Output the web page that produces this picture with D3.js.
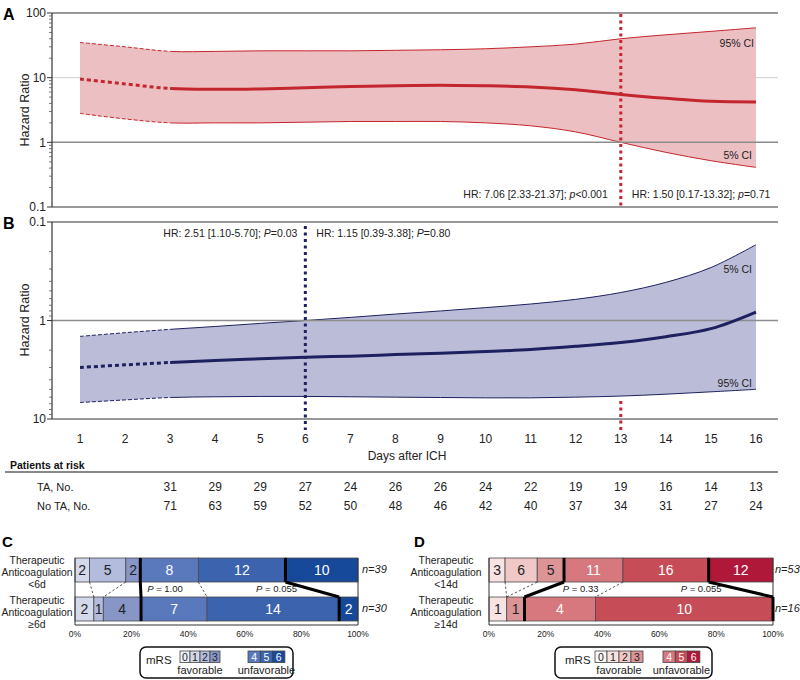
<!DOCTYPE html>
<html><head><meta charset="utf-8">
<script src="https://cdn.jsdelivr.net/npm/d3@7"></script>
<style>body{margin:0;background:#fff}svg{display:block;font-family:"Liberation Sans",Arial,sans-serif}</style>
</head><body><svg id="c" width="800" height="680"></svg>
<script>
// ---------- DATA ----------
const days = [1,2,3,4,5,6,7,8,9,10,11,12,13,14,15,16];
const hrA     = [9.5,8.0,6.8,6.6,6.7,7.0,7.3,7.5,7.6,7.5,7.2,6.5,5.5,4.8,4.3,4.2];
const ciLowA  = [2.8,2.3,2.0,2.0,2.0,2.05,2.1,2.1,2.1,2.0,1.8,1.45,1.0,0.7,0.52,0.41];
const ciHighA = [35,30,25.5,25.5,26,26,26,26.5,27,28,30,33,40,46,52,59];
const hrB     = [3.0,2.82,2.67,2.55,2.45,2.36,2.3,2.22,2.15,2.07,1.97,1.83,1.67,1.46,1.21,0.82];
const ci5B    = [1.45,1.33,1.23,1.15,1.07,1.0,0.93,0.86,0.8,0.74,0.68,0.61,0.52,0.41,0.29,0.17];
const ci95B   = [6.8,6.4,6.05,5.95,5.9,5.9,5.95,6.0,6.05,6.1,6.1,6.0,5.85,5.6,5.3,5.0];
const cutA = 13, cutB = 6;
const riskDays = [3,4,5,6,7,8,9,10,11,12,13,14,15,16];
const taAtRisk   = [31,29,29,27,24,26,26,24,22,19,19,16,14,13];
const noTaAtRisk = [71,63,59,52,50,48,46,42,40,37,34,31,27,24];
const mrsLevels = [0,1,2,3,4,5,6];
const cTop    = [0,2,5,2,8,12,10];
const cBottom = [0,2,1,4,7,14,2];
const dTop    = [0,3,6,5,11,16,12];
const dBottom = [0,1,0,1,4,10,0];
const pctTicks = [0,0.2,0.4,0.6,0.8,1];
const blues = ['#eef0f7','#d3d8ea','#b3bcdc','#8896c7','#5a79bd','#3c63ad','#17499b'];
const reds  = ['#fdf6f6','#f8e3e3','#f0c8c8','#dc9497','#d6787d','#c64c58','#b0183a'];

// ---------- SETUP ----------
const svg = d3.select('#c');
const L = 52, R = 778;
const x = d3.scaleLinear().domain([1,16]).range([80,756]);
const yA = d3.scaleLog().domain([0.1,100]).range([207,13]);
const yB = d3.scaleLog().domain([0.1,10]).range([222,419]);
const curve = d3.curveCatmullRom.alpha(0.5);
const defs = svg.append('defs');
defs.append('clipPath').attr('id','clipL').append('rect').attr('x',0).attr('y',0).attr('width',x(3)).attr('height',680);
defs.append('clipPath').attr('id','clipR').append('rect').attr('x',x(3)).attr('y',0).attr('width',800).attr('height',680);

function hazardPanel(y, hr, lo, hi, fill, col, lightGrid, darkGrid) {
  const g = svg.append('g');
  lightGrid.forEach(v => g.append('line').attr('x1',L).attr('x2',R).attr('y1',y(v)).attr('y2',y(v)).attr('stroke','#cfcfcf').attr('stroke-width',1));
  const area = d3.area().x((d,i)=>x(days[i])).y0((d,i)=>y(lo[i])).y1((d,i)=>y(hi[i])).curve(curve);
  g.append('path').attr('d',area(days)).attr('fill',fill);
  const line = arr => d3.line().x((d,i)=>x(days[i])).y((d,i)=>y(arr[i])).curve(curve)(days);
  [lo,hi].forEach(arr => {
    g.append('path').attr('d',line(arr)).attr('fill','none').attr('stroke',col).attr('stroke-width',1).attr('stroke-dasharray','4,2').attr('clip-path','url(#clipL)');
    g.append('path').attr('d',line(arr)).attr('fill','none').attr('stroke',col).attr('stroke-width',1).attr('clip-path','url(#clipR)');
  });
  darkGrid.forEach(v => g.append('line').attr('x1',L).attr('x2',R).attr('y1',y(v)).attr('y2',y(v)).attr('stroke','#8c8c8c').attr('stroke-width',1.5));
  g.append('path').attr('d',line(hr)).attr('fill','none').attr('stroke',col).attr('stroke-width',3).attr('stroke-dasharray','4,3').attr('clip-path','url(#clipL)');
  g.append('path').attr('d',line(hr)).attr('fill','none').attr('stroke',col).attr('stroke-width',3).attr('clip-path','url(#clipR)');
  const [d0,d1] = y.domain();
  [d0,d1].forEach(v => g.append('line').attr('x1',L).attr('x2',R).attr('y1',y(v)).attr('y2',y(v)).attr('stroke','#333').attr('stroke-width',1.2));
  g.append('line').attr('x1',L).attr('x2',L).attr('y1',y(d0)).attr('y2',y(d1)).attr('stroke','#333').attr('stroke-width',1.2);
  const decades = [];
  for (let e = Math.round(Math.log10(d0)); e <= Math.round(Math.log10(d1)); e++) decades.push(Math.pow(10,e));
  decades.forEach((dv,i) => {
    g.append('line').attr('x1',L-5).attr('x2',L).attr('y1',y(dv)).attr('y2',y(dv)).attr('stroke','#333');
    g.append('text').attr('x',L-6).attr('y',y(dv)).attr('dy','0.35em').attr('text-anchor','end').attr('font-size',12).attr('fill','#222').text(dv >= 1 ? d3.format('d')(dv) : '0.1');
    if (i < decades.length-1) for (let m=2;m<=9;m++) {
      const v = dv*m;
      g.append('line').attr('x1',L-3).attr('x2',L).attr('y1',y(v)).attr('y2',y(v)).attr('stroke','#555').attr('stroke-width',0.8);
    }
  });
  return g;
}

const redLine = '#c4262e', blueLine = '#1e2160';
hazardPanel(yA, hrA, ciLowA, ciHighA, '#ecbfc2', redLine, [10], [1]);
hazardPanel(yB, hrB, ci5B, ci95B, '#bbbcd7', blueLine, [], [1]);

svg.append('line').attr('x1',x(cutA)).attr('x2',x(cutA)).attr('y1',14).attr('y2',207).attr('stroke',redLine).attr('stroke-width',3).attr('stroke-dasharray','3,3.5');
svg.append('line').attr('x1',x(cutA)).attr('x2',x(cutA)).attr('y1',401).attr('y2',430).attr('stroke',redLine).attr('stroke-width',3).attr('stroke-dasharray','3,3.5');
svg.append('line').attr('x1',x(cutB)).attr('x2',x(cutB)).attr('y1',226).attr('y2',430).attr('stroke',blueLine).attr('stroke-width',3).attr('stroke-dasharray','3,3.5');

const t = (px,py,txt,opt={}) => { const e = svg.append('text').attr('x',px).attr('y',py).attr('font-size',opt.fs||12).attr('fill',opt.fill||'#222').attr('text-anchor',opt.anchor||'start').text(txt); if(opt.bold) e.attr('font-weight','bold'); if(opt.italic) e.attr('font-style','italic'); return e; };
t(3,20,'A',{fs:16,bold:true,fill:'#000'});
t(3,229,'B',{fs:16,bold:true,fill:'#000'});
t(2,547,'C',{fs:15,bold:true,fill:'#000'});
t(414,547,'D',{fs:15,bold:true,fill:'#000'});
svg.append('text').attr('transform','translate(29,110) rotate(-90)').attr('text-anchor','middle').attr('font-size',12.5).attr('fill','#222').text('Hazard Ratio');
svg.append('text').attr('transform','translate(29,320) rotate(-90)').attr('text-anchor','middle').attr('font-size',12.5).attr('fill','#222').text('Hazard Ratio');

t(754,47,'95% CI',{fs:10.5,anchor:'end'});
t(752,159,'5% CI',{fs:10.5,anchor:'end'});
t(752,273,'5% CI',{fs:10.5,anchor:'end'});
t(752,387,'95% CI',{fs:10.5,anchor:'end'});

function hrText(px, py, pre, pchar, post, anchor) {
  const e = svg.append('text').attr('x',px).attr('y',py).attr('font-size',10.5).attr('fill','#222').attr('text-anchor',anchor);
  e.append('tspan').text(pre); e.append('tspan').attr('font-style','italic').text(pchar); e.append('tspan').text(post);
}
hrText(x(cutA)-13,198,'HR: 7.06 [2.33-21.37]; ','p','<0.001','end');
hrText(x(cutA)+11,198,'HR: 1.50 [0.17-13.32]; ','p','=0.71','start');
hrText(x(cutB)-8,237,'HR: 2.51 [1.10-5.70]; ','P','=0.03','end');
hrText(x(cutB)+11,237,'HR: 1.15 [0.39-3.38]; ','P','=0.80','start');

days.forEach(d => t(x(d),443,String(d),{fs:12,anchor:'middle'}));
t(407,460,'Days after ICH',{fs:12,anchor:'middle'});

t(10,469,'Patients at risk',{fs:10.5,bold:true,fill:'#111'});
svg.append('line').attr('x1',5).attr('x2',R).attr('y1',472).attr('y2',472).attr('stroke','#888').attr('stroke-width',2);
t(37,491,'TA, No.',{fs:11});
t(37,510,'No TA, No.',{fs:11});
riskDays.forEach((d,i) => { t(x(d),491,String(taAtRisk[i]),{fs:12,anchor:'middle'}); t(x(d),510,String(noTaAtRisk[i]),{fs:12,anchor:'middle'}); });

// ---------- STACKED BAR PANELS ----------
function barPanel(x0, x1, top, bottom, colors, labelX, labelsTop, labelsBottom, pPos, pTexts, nX) {
  const xs = d3.scaleLinear().domain([0,1]).range([x0,x1]);
  const bars = [{counts:top, y0:558, y1:582}, {counts:bottom, y0:597, y1:621}];
  const g = svg.append('g');
  bars.forEach(b => {
    const n = d3.sum(b.counts);
    b.n = n;
    b.cum = []; let c = 0;
    mrsLevels.forEach(k => { const s = c; c += b.counts[k]; b.cum.push(c/n);
      if (b.counts[k] > 0) {
        g.append('rect').attr('x',xs(s/n)).attr('y',b.y0).attr('width',xs(c/n)-xs(s/n)).attr('height',b.y1-b.y0).attr('fill',colors[k]).attr('stroke','#4a4a4a').attr('stroke-width',0.8);
        g.append('text').attr('x',(xs(s/n)+xs(c/n))/2).attr('y',(b.y0+b.y1)/2).attr('dy','0.36em').attr('text-anchor','middle').attr('font-size',14).attr('fill',k>=4?'#fff':'#222').text(b.counts[k]);
      }
    });
  });
  g.append('path').attr('d',`M${x0},558V625H${x1}V558`).attr('fill','none').attr('stroke','#333').attr('stroke-width',1);
  [1,2,3,4,5].forEach(k => {
    const thick = (k===3||k===5);
    const ln = g.append('line').attr('x1',xs(bars[0].cum[k])).attr('y1',582).attr('x2',xs(bars[1].cum[k])).attr('y2',597);
    if (thick) ln.attr('stroke','#000').attr('stroke-width',3);
    else ln.attr('stroke','#333').attr('stroke-width',0.8).attr('stroke-dasharray','2.5,2');
    if (thick) bars.forEach(b => g.append('line').attr('x1',xs(b.cum[k])).attr('x2',xs(b.cum[k])).attr('y1',b.y0).attr('y2',b.y1).attr('stroke','#000').attr('stroke-width',3));
  });
  pPos.forEach((p,i) => {
    const e = g.append('text').attr('x',xs(p)).attr('y',592).attr('font-size',9.5).attr('fill','#222');
    e.append('tspan').attr('font-style','italic').text('P'); e.append('tspan').text(' = ' + pTexts[i]);
  });
  pctTicks.forEach(v => g.append('text').attr('x',xs(v)).attr('y',637).attr('text-anchor','middle').attr('font-size',8.5).attr('fill','#222').text(d3.format('.0%')(v)));
  t(nX,573,'n=' + bars[0].n,{fs:11,italic:true});
  t(nX,612,'n=' + bars[1].n,{fs:11,italic:true});
  [[labelsTop,[564,576,588]],[labelsBottom,[604,616,628]]].forEach(([lab,ys]) => lab.forEach((s,i)=>t(labelX,ys[i],s,{fs:10.4,anchor:'middle'})));
}
barPanel(75,358,cTop,cBottom,blues,37,['Therapeutic','Anticoagulation','<6d'],['Therapeutic','Anticoagulation','≥6d'],[0.255,0.64],['1.00','0.055'],362);
barPanel(489,773,dTop,dBottom,reds,446,['Therapeutic','Anticoagulation','<14d'],['Therapeutic','Anticoagulation','≥14d'],[0.26,0.675],['0.33','0.055'],775);

function legend(bx, bw, mrsX, favX, favW, unfX, unfW, colors) {
  const g = svg.append('g');
  g.append('rect').attr('x',bx).attr('y',647).attr('width',bw).attr('height',31).attr('rx',6).attr('fill','#fff').attr('stroke','#111').attr('stroke-width',1.5);
  g.append('text').attr('x',mrsX).attr('y',664).attr('font-size',11.5).attr('fill','#222').text('mRS');
  mrsLevels.forEach(k => {
    const bx0 = k < 4 ? favX + k*favW : unfX + (k-4)*unfW;
    const w = k < 4 ? favW : unfW;
    g.append('rect').attr('x',bx0).attr('y',651).attr('width',w).attr('height',11.5).attr('fill',colors[k]).attr('stroke','#444').attr('stroke-width',0.8);
    g.append('text').attr('x',bx0+w/2).attr('y',660.5).attr('text-anchor','middle').attr('font-size',10.5).attr('fill',k>=4?'#fff':'#222').text(k);
  });
  g.append('text').attr('x',favX+2*favW).attr('y',674).attr('text-anchor','middle').attr('font-size',11).attr('fill','#222').text('favorable');
  g.append('text').attr('x',unfX+1.5*unfW).attr('y',674).attr('text-anchor','middle').attr('font-size',11).attr('fill','#222').text('unfavorable');
}
legend(140,153,146,180,10,248,12.3,blues);
legend(555,157,565,595,12,663,12.3,reds);
</script></body></html>
